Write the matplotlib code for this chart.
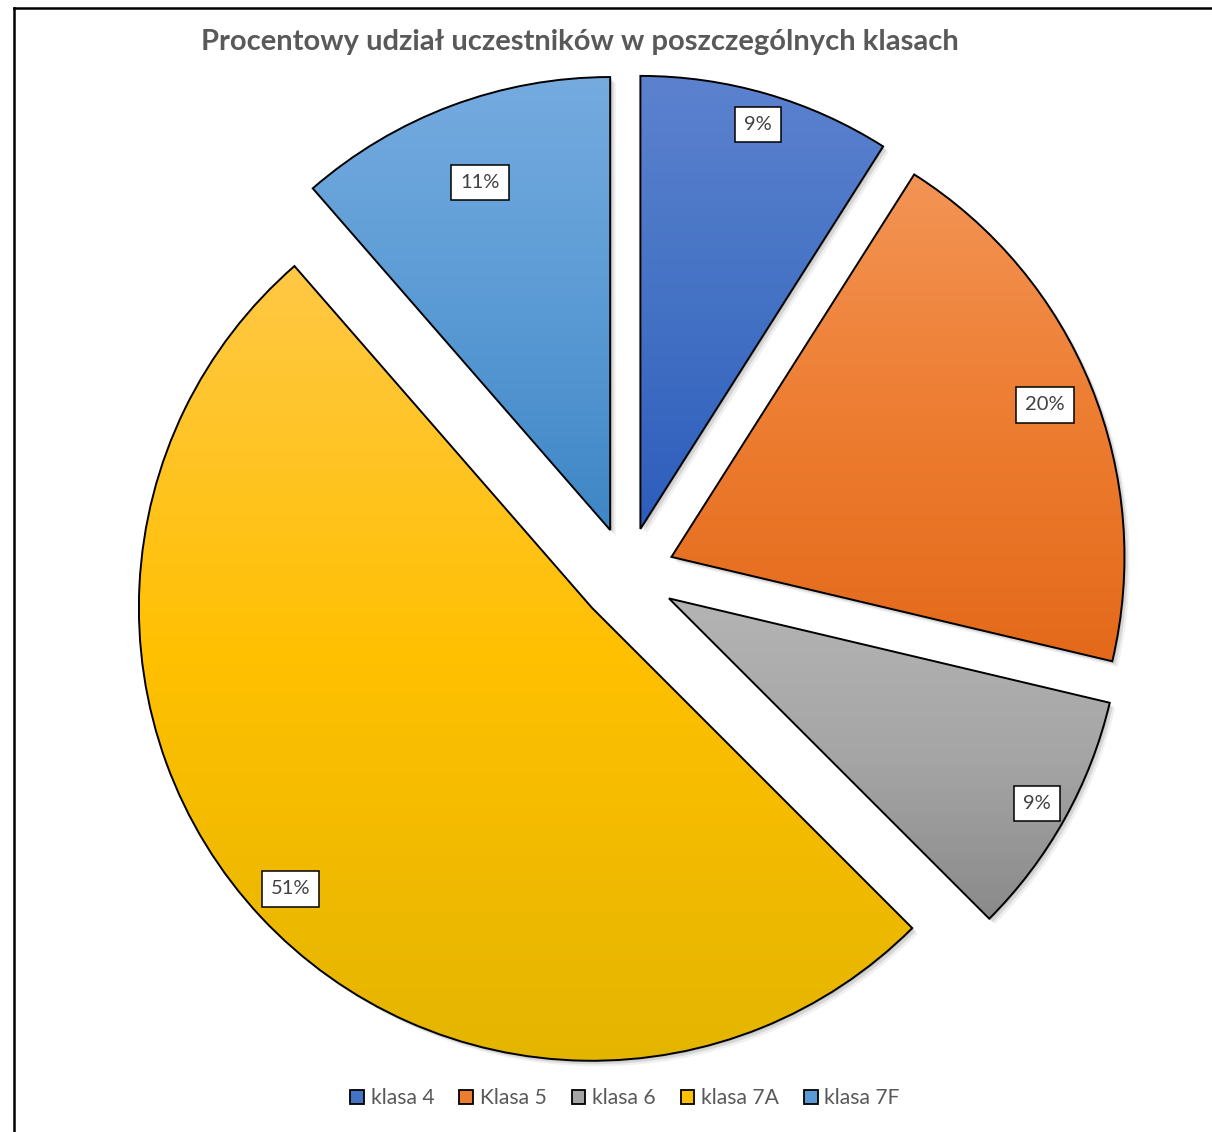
import numpy as np
import matplotlib
matplotlib.use('Agg')
import matplotlib.pyplot as plt
import matplotlib.patheffects as pe
from matplotlib.patches import Patch, Wedge
from matplotlib.lines import Line2D
from matplotlib.colors import to_rgb

# data
labels = ['klasa 4', 'Klasa 5', 'klasa 6', 'klasa 7A', 'klasa 7F']
shares = [9.0, 19.7, 8.8, 51.1, 11.4]

# gradient colours per slice: top, middle, bottom
top_colors = ['#5C82CF', '#F39455', '#B4B4B4', '#FFC845', '#75ABDF']
mid_colors = ['#4472C4', '#ED7D31', '#A5A5A5', '#FFC000', '#5B9BD5']
bottom_colors = ['#2D5DBD', '#E4691A', '#8A8A8A', '#E4B500', '#3E86C6']
label_dist = [0.93, 0.89, 0.93, 0.91, 0.82]

W, H = 1212, 1132
fig = plt.figure(figsize=(W / 100, H / 100), dpi=100)
ax = fig.add_axes([0, 0, 1, 1])

cx, cy = 627, H - 575
R = 453
explode = [48] * len(shares)

shadow = [pe.SimplePatchShadow(offset=(1, -1), shadow_rgbFace='black', alpha=0.12),
          pe.SimplePatchShadow(offset=(2.5, -2.5), shadow_rgbFace='black', alpha=0.10),
          pe.SimplePatchShadow(offset=(4, -4), shadow_rgbFace='black', alpha=0.06),
          pe.Normal()]

wedges, _ = ax.pie(shares, center=(cx, cy), radius=R, startangle=90,
                   counterclock=False, explode=explode,
                   colors=mid_colors,
                   wedgeprops=dict(edgecolor='none', linewidth=0))

total = sum(shares)
for i, w in enumerate(wedges):
    w.set_path_effects(shadow)
    w.set_zorder(1)
    verts = w.get_path().vertices
    x0, x1 = verts[:, 0].min(), verts[:, 0].max()
    y0, y1 = verts[:, 1].min(), verts[:, 1].max()
    c0 = np.array(to_rgb(top_colors[i]))
    cm = np.array(to_rgb(mid_colors[i]))
    c1 = np.array(to_rgb(bottom_colors[i]))
    t = np.linspace(0, 1, 256)[:, None, None]
    grad = np.where(t < 0.5, c0 + (cm - c0) * (t / 0.5), cm + (c1 - cm) * ((t - 0.5) / 0.5))
    im = ax.imshow(grad, extent=(x0, x1, y0, y1), origin='upper',
                   aspect='auto', interpolation='bilinear', zorder=2)
    im.set_clip_path(w)
    outline = Wedge(w.center, w.r, w.theta1, w.theta2, facecolor='none',
                    edgecolor='black', linewidth=1.4, zorder=3)
    ax.add_patch(outline)

    # data label near the outer edge
    mid = np.deg2rad((w.theta1 + w.theta2) / 2)
    lx = w.center[0] + label_dist[i] * R * np.cos(mid)
    ly = w.center[1] + label_dist[i] * R * np.sin(mid)
    ax.text(lx, ly, '{:.0f}%'.format(100 * shares[i] / total), ha='center', va='center',
            fontsize=14.5, family='Lato', color='#404040', zorder=5,
            bbox=dict(boxstyle='square,pad=0.45', fc='white', ec='black', lw=1.1))

ax.set_xlim(0, W)
ax.set_ylim(0, H)
ax.set_aspect('equal')
ax.axis('off')

fig.text(580 / W, 1 - 42 / H, 'Procentowy udział uczestników w poszczególnych klasach',
         ha='center', va='center', fontsize=21, fontweight='bold',
         family='Lato', color='#595959')

handles = [Patch(facecolor=c, edgecolor='black', linewidth=1.3) for c in mid_colors]
leg = fig.legend(handles, labels, loc='center', bbox_to_anchor=(625 / W, 1 - 1098 / H),
                 ncol=5, frameon=False, handlelength=0.65, handleheight=0.65,
                 handletextpad=0.3, columnspacing=1.2,
                 prop=dict(family='Lato', size=15.2))
for txt in leg.get_texts():
    txt.set_color('#595959')

# chart frame (top and left edges visible)
fig.add_artist(Line2D([14 / W, 14 / W], [0, 1 - 8 / H], color='black', lw=1.8))
fig.add_artist(Line2D([14 / W, 1], [1 - 8 / H, 1 - 8 / H], color='black', lw=1.8))

fig.savefig('out.png', dpi=100)
